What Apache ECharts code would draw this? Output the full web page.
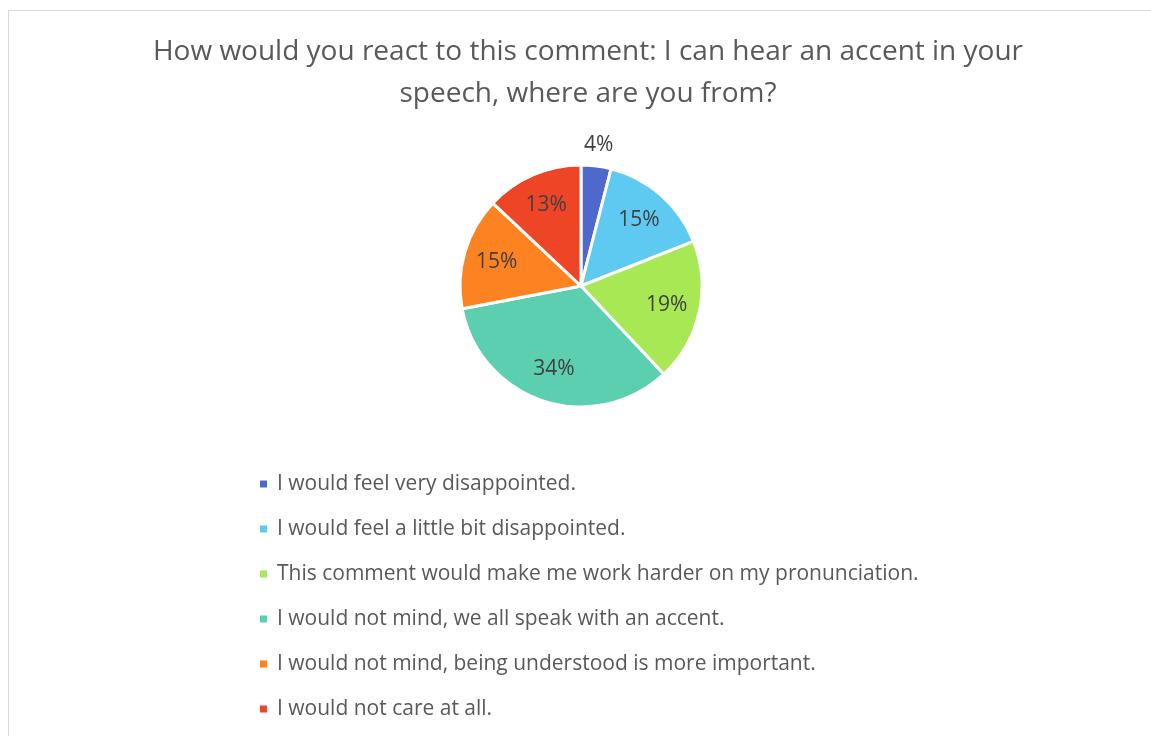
<!DOCTYPE html>
<html>
<head>
<meta charset="utf-8">
<script src="https://cdn.jsdelivr.net/npm/echarts@6/dist/echarts.min.js"></script>
<style>
  html, body { margin: 0; padding: 0; background: #ffffff; }
  #frame { position: absolute; left: 8px; top: 10px; width: 1150px; height: 730px; border: 1px solid #d9d9d9; box-sizing: border-box; }
  #chart { width: 1151px; height: 736px; position: absolute; left: 0; top: 0; }
</style>
</head>
<body>
<div id="frame"></div>
<div id="chart"></div>
<script>
// Survey answers and their shares (percent)
const titleText = 'How would you react to this comment: I can hear an accent in your\nspeech, where are you from?';
const categories = [
  'I would feel very disappointed.',
  'I would feel a little bit disappointed.',
  'This comment would make me work harder on my pronunciation.',
  'I would not mind, we all speak with an accent.',
  'I would not mind, being understood is more important.',
  'I would not care at all.'
];
const shares = [4, 15, 19, 34, 15, 13];
const sliceColors = ['#4f68cc', '#5ecaf1', '#a8e855', '#5dcfb1', '#fd8322', '#ef4527'];

const FONT = '"Open Sans", "Noto Sans", sans-serif';
const center = [581, 286];
const radius = 121;

const pieData = categories.map((name, i) => ({
  name: name,
  value: shares[i],
  itemStyle: { color: sliceColors[i] }
}));

// A transparent ring over the outer part of the pie carries the percent labels,
// so they sit at roughly 70% of the radius.
const labelData = categories.map((name, i) => ({
  name: name,
  value: shares[i],
  label: i === 0
    ? { position: 'outside' }
    : { position: 'inside' }
}));

const chart = echarts.init(document.getElementById('chart'), null, { renderer: 'canvas' });
chart.setOption({
  animation: false,
  backgroundColor: 'transparent',
  title: {
    text: titleText,
    left: 583,
    textAlign: 'center',
    top: 26,
    textStyle: { fontFamily: FONT, fontSize: 28, fontWeight: 'normal', color: '#595959', lineHeight: 42 }
  },
  legend: {
    orient: 'vertical',
    left: 258,
    top: 472,
    padding: 0,
    itemWidth: 9,
    itemHeight: 9,
    itemGap: 21,
    icon: 'rect',
    data: categories,
    textStyle: { fontFamily: FONT, fontSize: 21, color: '#595959', lineHeight: 24, padding: [0, 0, 0, 4] }
  },
  series: [
    {
      type: 'pie',
      center: center,
      radius: [0, radius],
      startAngle: 90,
      clockwise: true,
      avoidLabelOverlap: false,
      label: { show: false },
      labelLine: { show: false },
      itemStyle: { borderColor: '#ffffff', borderWidth: 3 },
      data: pieData
    },
    {
      type: 'pie',
      center: center,
      radius: [radius * 0.4, radius],
      startAngle: 90,
      clockwise: true,
      silent: true,
      legendHoverLink: false,
      avoidLabelOverlap: false,
      itemStyle: { color: 'rgba(0,0,0,0)' },
      label: {
        show: true,
        formatter: '{c}%',
        fontFamily: FONT,
        fontSize: 21,
        color: '#404040'
      },
      labelLine: { show: false, length: 4, length2: 0 },
      labelLayout: function (p) {
        if (p.dataIndex === 0) {
          return { align: 'center', verticalAlign: 'bottom', dx: -3, dy: -6 };
        }
        return {};
      },
      data: labelData
    }
  ]
});
</script>
</body>
</html>
